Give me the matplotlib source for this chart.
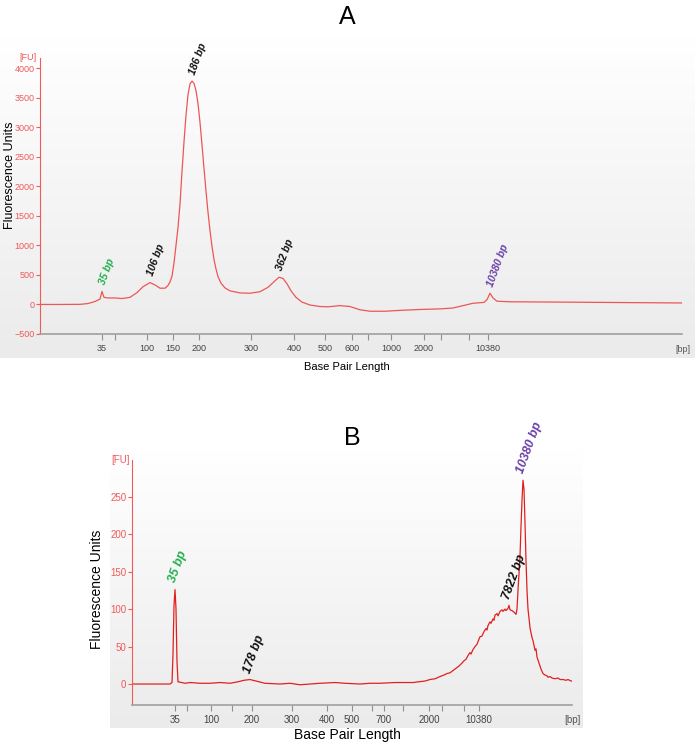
import matplotlib
matplotlib.use('Agg')
import matplotlib.pyplot as plt
import numpy as np
from matplotlib.colors import LinearSegmentedColormap

plt.rcParams['font.family'] = ['Liberation Sans', 'DejaVu Sans']

# ---------------- data (x = migration position, arbitrary units) ----------------
A_pos = [40, 60, 80, 88, 95, 100, 102, 104, 108, 115, 122, 130, 137, 143, 150, 155, 160, 165,
         168, 170, 172, 174, 176, 178, 180, 182, 184, 186, 188, 190, 192, 194, 196, 198, 200,
         202, 204, 206, 208, 210, 212, 214, 216, 218, 221, 225, 230, 240, 250, 260, 268, 275,
         279, 283, 287, 291, 296, 302, 310, 320, 328, 340, 350, 360, 370, 385, 400, 420, 440,
         453, 463, 473, 484, 487, 490, 493, 497, 510, 560, 600, 640, 683]
A_fu = [0, 0, 2, 15, 50, 90, 220, 120, 110, 110, 100, 120, 200, 300, 370, 330, 275, 275,
        320, 380, 480, 700, 1000, 1300, 1700, 2250, 2750, 3200, 3550, 3730, 3780, 3740, 3620,
        3400, 3080, 2700, 2300, 1920, 1560, 1250, 980, 760, 600, 470, 360, 280, 230, 195, 190,
        215, 290, 400, 460, 440, 350, 230, 120, 40, -10, -35, -40, -20, -35, -90, -115, -115,
        -100, -85, -75, -60, -20, 20, 35, 80, 190, 110, 55, 45, 40, 35, 30, 25]
A_tick_pos = [102, 115, 147, 173, 199, 251, 294, 325, 352, 368, 391, 424, 441, 469, 488]
A_tick_labels = ['35', '', '100', '150', '200', '300', '400', '500', '600', '', '1000', '2000',
                 '', '', '10380']
A_yticks = [-500, 0, 500, 1000, 1500, 2000, 2500, 3000, 3500, 4000]
A_peak_pos = [102, 150, 192, 279, 490]
A_peak_fu = [220, 370, 3780, 460, 190]
A_peak_labels = ['35 bp', '106 bp', '186 bp', '362 bp', '10380 bp']
A_peak_colors = ['#22b04b', '#111111', '#111111', '#111111', '#6a3fa8']

B_pos = [132, 170, 172, 173, 174, 175, 176, 177, 178, 185, 190, 200, 210, 220, 230, 238, 244,
         250, 256, 265, 280, 290, 300, 310, 320, 335, 345, 360, 370, 380, 395, 413, 425, 430,
         435, 440, 444, 447, 450, 453, 456, 459, 462, 464, 466, 468, 470, 471, 473, 475, 477,
         479, 480, 482, 484, 486, 487, 488, 490, 491, 493, 494, 495, 497, 498, 500, 502, 503,
         505, 506, 508, 509, 510, 512, 514, 516, 517, 518, 520, 521, 522, 523, 524, 525, 526,
         527, 528, 529, 530, 532, 533, 535, 536, 537, 539, 540, 541, 543, 545, 547, 548, 550,
         552, 555, 558, 560, 563, 566, 568, 571, 575]
B_fu = [0, 0, 2, 40, 105, 126, 100, 30, 3, 1, 2, 1, 1, 2, 1, 3, 5,
        6, 4, 1, 0, 1, -1, 0, 1, 2, 1, 0, 1, 1, 2, 2, 4, 6,
        7, 10, 12, 14, 15, 18, 21, 24, 28, 31, 33, 38, 42, 40, 46, 50, 53,
        60, 63, 64, 70, 74, 72, 78, 83, 81, 87, 85, 92, 94, 91, 97, 99, 97,
        100, 98, 101, 105, 99, 98, 96, 93, 100, 125, 170, 210, 245, 272, 260, 215, 165,
        125, 100, 88, 75, 62, 58, 45, 47, 36, 28, 24, 20, 14, 12, 11, 9, 10,
        8, 7, 8, 6, 6, 5, 6, 4, 4]
B_tick_pos = [175, 187, 211, 232, 252, 292, 327, 352, 372, 384, 403, 429, 442, 464, 479]
B_tick_labels = ['35', '', '100', '', '200', '300', '400', '500', '', '700', '', '2000', '', '',
                 '10380']
B_yticks = [0, 50, 100, 150, 200, 250]
B_peak_pos = [175, 250, 509, 523]
B_peak_fu = [127, 6, 104, 272]
B_peak_labels = ['35 bp', '178 bp', '7822 bp', '10380 bp']
B_peak_colors = ['#22b04b', '#111111', '#111111', '#6a3fa8']

# ---------------- layout ----------------
W, H = 695, 745
fig = plt.figure(figsize=(W / 100, H / 100), dpi=100)


def frect(x0, y0, x1, y1):
    return [x0 / W, 1 - y1 / H, (x1 - x0) / W, (y1 - y0) / H]


grad_cmap = LinearSegmentedColormap.from_list('g', ['#ffffff', '#ebebeb'])
grad = np.linspace(0, 1, 256).reshape(-1, 1)


def background(rect):
    bg = fig.add_axes(rect, zorder=0)
    bg.imshow(grad, aspect='auto', cmap=grad_cmap, extent=[0, 1, 0, 1], origin='upper')
    bg.set_axis_off()


def panel(rect, pos, fu, xlim, ylim, xt, xtl, yt, ppos, pfu, plab, pcol,
          lc, lw, tick_fs, lab_fs_x, lab_fs_y, ann_fs, ann_off, title, title_xy,
          ylab_xy, xlab_y):
    ax = fig.add_axes(rect, zorder=1)
    ax.set_facecolor('none')
    ax.plot(pos, fu, color=lc, lw=lw)
    ax.set_xlim(*xlim)
    ax.set_ylim(*ylim)
    for s in ['top', 'right']:
        ax.spines[s].set_visible(False)
    ax.spines['left'].set_color('#f05a5a')
    ax.spines['bottom'].set_color('#a0a0a0')
    ax.spines['bottom'].set_linewidth(1.2)
    ax.set_xticks(xt)
    ax.set_xticklabels(xtl)
    ax.set_yticks(yt)
    ax.tick_params(axis='x', colors='#909090', labelcolor='#444444', labelsize=tick_fs,
                   length=4, width=0.8, pad=3)
    ax.tick_params(axis='y', colors='#f05a5a', labelcolor='#f05a5a', labelsize=tick_fs,
                   length=3, width=0.8, pad=1)
    for x, y, t, c in zip(ppos, pfu, plab, pcol):
        ax.annotate(t, (x, y), xytext=ann_off, textcoords='offset points',
                    rotation=70, rotation_mode='anchor', ha='left', va='center',
                    fontsize=ann_fs, fontweight='bold', fontstyle='italic', color=c)
    ax.text(-0.005, 1.0, '[FU]', transform=ax.transAxes, ha='right', va='center',
            fontsize=tick_fs, color='#f05a5a')
    ax.text(1.002, -0.04, '[bp]', transform=ax.transAxes, ha='center', va='top',
            fontsize=tick_fs, color='#555555')
    fig.text(title_xy[0] / W, 1 - title_xy[1] / H, title, ha='center', va='center',
             fontsize=18)
    fig.text(ylab_xy[0] / W, 1 - ylab_xy[1] / H, 'Fluorescence Units', rotation=90,
             ha='center', va='center', fontsize=lab_fs_y)
    fig.text(347 / W, 1 - xlab_y / H, 'Base Pair Length', ha='center', va='center',
             fontsize=lab_fs_x)
    return ax


background(frect(0, 36, 695, 358))
panel(frect(40, 58, 682, 334), A_pos, A_fu, (40, 682), (-500, 4170), A_tick_pos, A_tick_labels,
      A_yticks, A_peak_pos, A_peak_fu, A_peak_labels, A_peak_colors,
      '#ee5555', 0.9, 6.5, 8, 9, 7.5, (0, 5), 'A', (347, 17), (10, 175), 367)

background(frect(110, 450, 583, 728))
panel(frect(132, 460, 572, 705), B_pos, B_fu, (132, 572), (-28, 299), B_tick_pos, B_tick_labels,
      B_yticks, B_peak_pos, B_peak_fu, B_peak_labels, B_peak_colors,
      '#e02020', 0.9, 7, 10, 10, 9, (-2, 5), 'B', (352, 438), (97, 589), 735)

fig.savefig('out.png', dpi=100)
